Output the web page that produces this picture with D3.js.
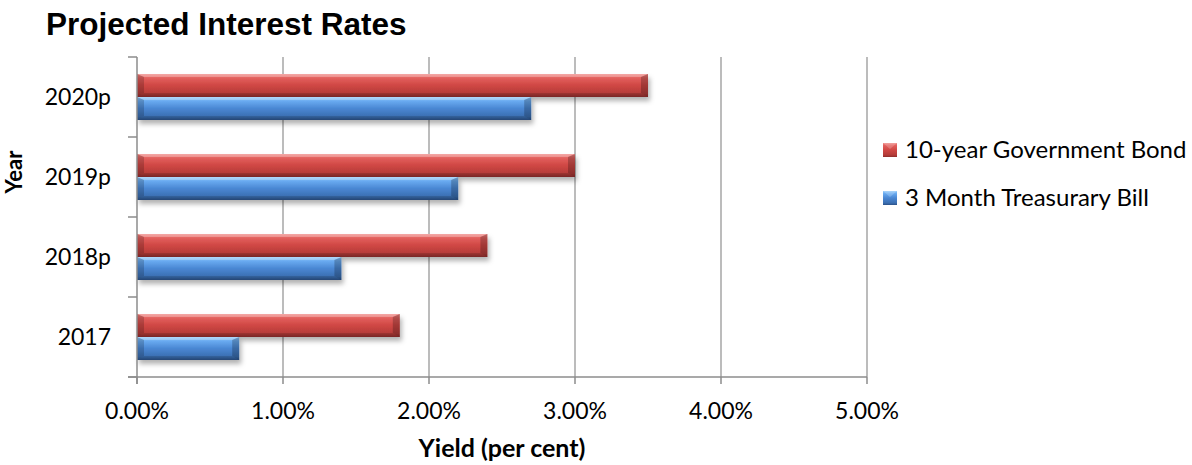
<!DOCTYPE html>
<html>
<head>
<meta charset="utf-8">
<script src="https://cdn.jsdelivr.net/npm/d3@7.9.0/dist/d3.min.js"></script>
<style>
  body { margin: 0; background: #fff; }
  svg { display: block; }
</style>
</head>
<body>
<svg id="chart" width="1192" height="465"></svg>
<script>
// chart data
const years = ["2020p", "2019p", "2018p", "2017"];
const bond10y = [3.5, 3.0, 2.4, 1.8];   // 10-year Government Bond, %
const bill3m = [2.7, 2.2, 1.4, 0.7];    // 3 Month Treasurary Bill, %
const xTicks = [0, 1, 2, 3, 4, 5];
const seriesNames = ["10-year Government Bond", "3 Month Treasurary Bill"];

const svg = d3.select("#chart");
const font = "Lato, 'Open Sans', sans-serif";

const x = d3.scaleLinear().domain([0, 5]).range([137, 867]);
const y = d3.scaleBand().domain(years).range([57, 377]).paddingInner(0.425).paddingOuter(0.2125);
const sub = d3.scaleBand().domain(["bond", "bill"]).range([0, y.bandwidth()]);

// gradients + shadow
const defs = svg.append("defs");
const grads = {
  bond: ["#f08a87", "#e25f5c", "#cf4744", "#b53c39", "#8e2d2b"],
  bill: ["#96cbf9", "#68aaf0", "#4a87d3", "#3b6fb2", "#2b5289"]
};
Object.entries(grads).forEach(([k, c]) => {
  const g = defs.append("linearGradient").attr("id", "g-" + k)
    .attr("x1", 0).attr("y1", 0).attr("x2", 0).attr("y2", 1);
  [0, 0.18, 0.5, 0.85, 1].forEach((o, i) => g.append("stop").attr("offset", o).attr("stop-color", c[i]));
});
const f = defs.append("filter").attr("id", "shadow")
  .attr("x", "-5%").attr("y", "-30%").attr("width", "115%").attr("height", "180%");
f.append("feDropShadow").attr("dx", 2).attr("dy", 4).attr("stdDeviation", 2.5)
  .attr("flood-color", "#000").attr("flood-opacity", 0.3);

// title
svg.append("text").attr("x", 46).attr("y", 35)
  .style("font-family", "Liberation Sans, Arial, Helvetica, sans-serif")
  .style("font-weight", "bold").style("font-size", "31.5px")
  .text("Projected Interest Rates");

// gridlines
svg.append("g").selectAll("line").data(xTicks.slice(1)).join("line")
  .attr("x1", d => x(d)).attr("x2", d => x(d))
  .attr("y1", 57).attr("y2", 377)
  .attr("stroke", "#a6a6a6").attr("stroke-width", 1.5);

// bars
const data = [];
years.forEach((yr, i) => {
  data.push({ year: yr, key: "bond", v: bond10y[i] });
  data.push({ year: yr, key: "bill", v: bill3m[i] });
});

const bars = svg.append("g").selectAll("g").data(data).join("g")
  .attr("transform", d => `translate(0,${y(d.year) + sub(d.key)})`);

const h = sub.bandwidth();
const b = 7;
bars.append("rect")
  .attr("x", x(0)).attr("y", 0)
  .attr("width", d => x(d.v) - x(0)).attr("height", h)
  .attr("fill", d => `url(#g-${d.key})`)
  .attr("filter", "url(#shadow)");
// top bevel
bars.append("polygon")
  .attr("points", d => `${x(0)},0 ${x(d.v)},0 ${x(d.v) - b},3 ${x(0) + b},3`)
  .attr("fill", "#fff").attr("opacity", 0.25);
// bottom bevel
bars.append("polygon")
  .attr("points", d => `${x(0)},${h} ${x(d.v)},${h} ${x(d.v) - b},${h - 4} ${x(0) + b},${h - 4}`)
  .attr("fill", "#000").attr("opacity", 0.15);
// end bevels
bars.append("polygon")
  .attr("points", d => `${x(d.v) - b},3 ${x(d.v)},0 ${x(d.v)},${h} ${x(d.v) - b},${h - 4}`)
  .attr("fill", "#000").attr("opacity", 0.22);
bars.append("polygon")
  .attr("points", d => `${x(0) + b},3 ${x(0)},0 ${x(0)},${h} ${x(0) + b},${h - 4}`)
  .attr("fill", "#000").attr("opacity", 0.18);

// y axis
const yAxis = svg.append("g");
yAxis.append("line").attr("x1", 137).attr("x2", 137).attr("y1", 57).attr("y2", 384)
  .attr("stroke", "#8c8c8c").attr("stroke-width", 1.5);
const bounds = years.map(d => y(d) - y.step() * y.paddingInner() / 2).concat([377]);
yAxis.selectAll(".tk").data(bounds).join("line")
  .attr("x1", 128).attr("x2", 137).attr("y1", d => d).attr("y2", d => d)
  .attr("stroke", "#8c8c8c").attr("stroke-width", 1.5);
yAxis.selectAll("text").data(years).join("text")
  .attr("x", 111).attr("y", d => y(d) + y.bandwidth() / 2)
  .attr("dy", "0.36em").attr("text-anchor", "end")
  .style("font-family", font).style("font-size", "23px")
  .text(d => d);

// x axis
const xAxis = svg.append("g");
xAxis.append("line").attr("x1", 128).attr("x2", 867).attr("y1", 377).attr("y2", 377)
  .attr("stroke", "#8c8c8c").attr("stroke-width", 1.5);
xAxis.selectAll(".tk").data(xTicks).join("line")
  .attr("x1", d => x(d)).attr("x2", d => x(d)).attr("y1", 377).attr("y2", 384)
  .attr("stroke", "#8c8c8c").attr("stroke-width", 1.5);
xAxis.selectAll("text").data(xTicks).join("text")
  .attr("x", d => x(d)).attr("y", 419).attr("text-anchor", "middle")
  .style("font-family", font).style("font-size", "23px")
  .text(d => d3.format(".2f")(d) + "%");

// axis titles
svg.append("text").attr("x", x(2.5)).attr("y", 457).attr("text-anchor", "middle")
  .style("font-family", font).style("font-weight", "bold").style("font-size", "25px")
  .text("Yield (per cent)");
svg.append("text").attr("transform", "translate(22,172) rotate(-90)").attr("text-anchor", "middle")
  .style("font-family", font).style("font-weight", "bold").style("font-size", "22px")
  .text("Year");

// legend
const legend = svg.append("g").selectAll("g").data(["bond", "bill"]).join("g")
  .attr("transform", (d, i) => `translate(883,${143 + i * 48})`);
legend.append("rect").attr("width", 14).attr("height", 14)
  .attr("fill", d => `url(#g-${d})`);
legend.append("polygon").attr("points", "0,0 14,0 7,6").attr("fill", "#fff").attr("opacity", 0.2);
legend.append("text").attr("x", 22).attr("y", 15)
  .style("font-family", font).style("font-size", "24px")
  .text((d, i) => seriesNames[i]);
</script>
</body>
</html>
